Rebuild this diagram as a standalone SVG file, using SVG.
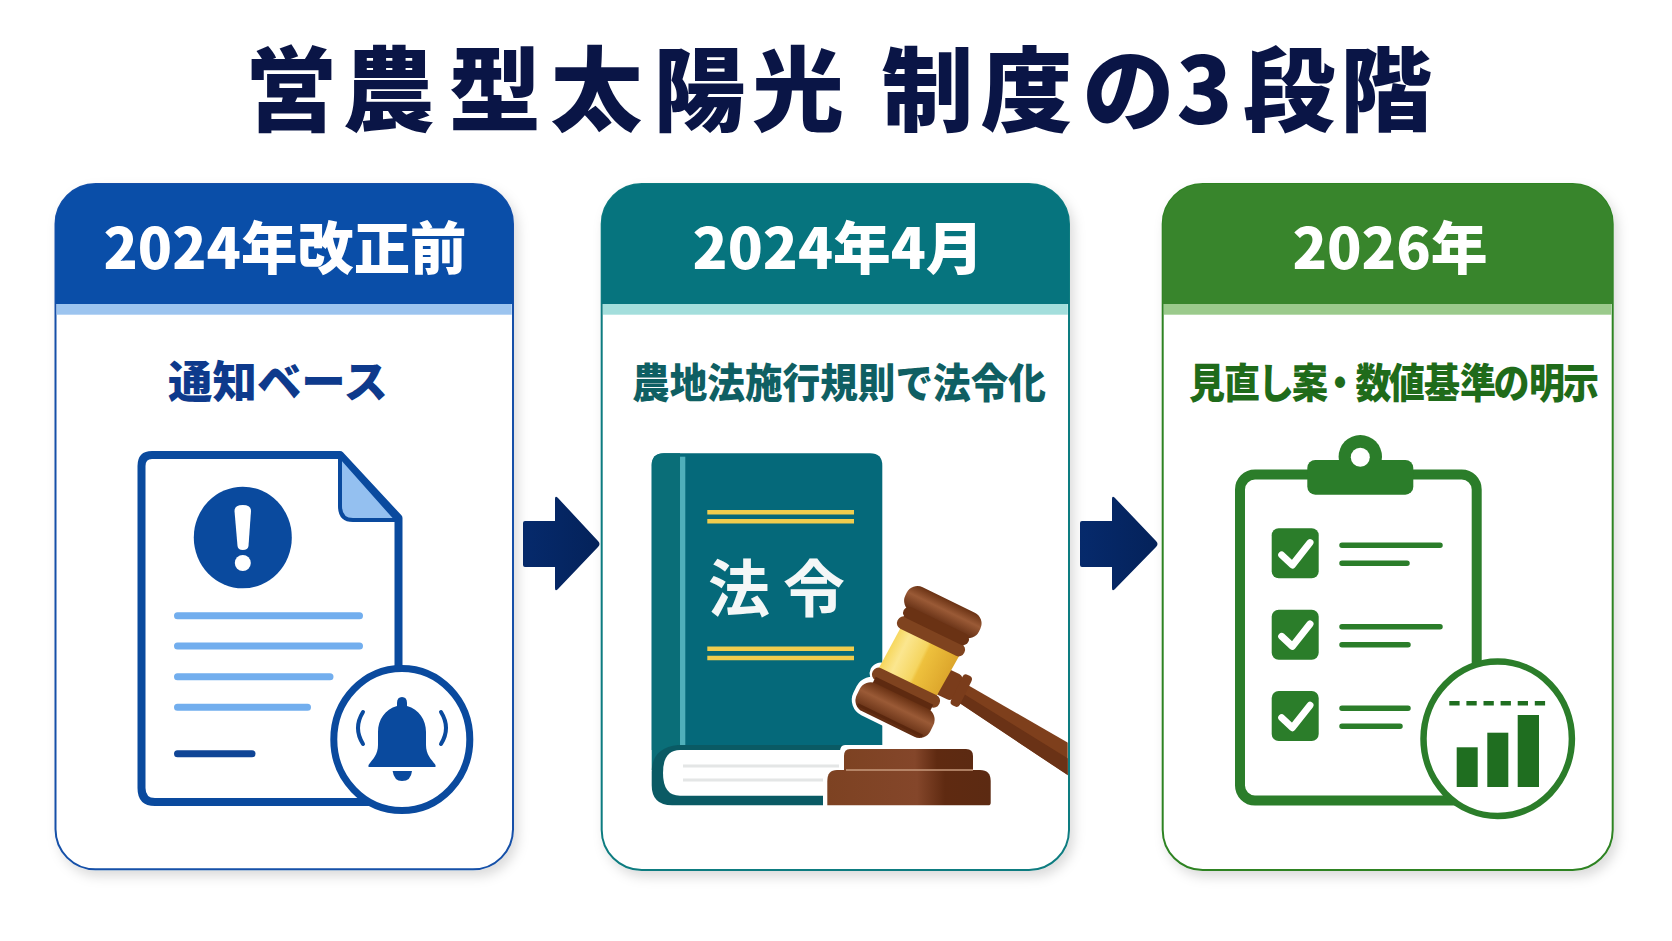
<svg xmlns="http://www.w3.org/2000/svg" width="1672" height="941" viewBox="0 0 1672 941">
<style>
text{font-family:"Noto Sans CJK JP","Noto Sans",sans-serif;text-anchor:middle}
.title{font-size:92px;font-weight:900;fill:#0a1546;text-anchor:start}
.hd{font-size:57px;font-weight:900;fill:#fff}
.sub{font-weight:900}
.card{fill:#fff;stroke-width:2}
.cap{stroke-linecap:round;fill:none}
</style>
<defs>
<filter id="sh" x="-10%" y="-10%" width="125%" height="125%"><feDropShadow dx="4" dy="6" stdDeviation="6" flood-color="#000" flood-opacity=".14"/></filter>
<linearGradient id="arr" x1="0" y1="0" x2="1" y2="0"><stop offset="0" stop-color="#062a6c"/><stop offset="1" stop-color="#04225a"/></linearGradient>
<linearGradient id="gold" x1="0" y1="0" x2="1" y2="0"><stop offset="0" stop-color="#f6d65a"/><stop offset=".2" stop-color="#fbe68f"/><stop offset=".5" stop-color="#f5d560"/><stop offset=".55" stop-color="#eec13d"/><stop offset="1" stop-color="#dca52b"/></linearGradient>
<linearGradient id="wood" x1="0" y1="0" x2="1" y2="0"><stop offset="0" stop-color="#7d4222"/><stop offset=".55" stop-color="#84462a"/><stop offset=".72" stop-color="#5f2a11"/><stop offset="1" stop-color="#5c2a12"/></linearGradient>
<linearGradient id="cap" x1="0" y1="0" x2="0" y2="1"><stop offset="0" stop-color="#6a3214"/><stop offset=".4" stop-color="#9a5a36"/><stop offset="1" stop-color="#5e2a10"/></linearGradient>
<clipPath id="c2"><rect x="601.7" y="183.3" width="466" height="686.7" rx="40"/></clipPath>
</defs>
<rect width="1672" height="941" fill="#fff"/>
<text id="title" class="title" x="245 342.500 449 550.500 653.500 752 850 881.500 980.500 1082.500 1176.500 1243 1340" y="124">営農型太陽光 制度の3段階</text>

<g id="connectors">
<path id="arrow1" fill="url(#arr)" d="M525 521H555V499Q555 495 558 498L598 541Q601 544 598 547L558 589Q555 592 555 588V567H525Q523 567 523 565V523Q523 521 525 521Z"/>
<path id="arrow2" fill="url(#arr)" d="M1082 521H1112V499Q1112 495 1115 498L1156 541Q1159 544 1156 547L1115 589Q1112 592 1112 588V567H1082Q1080 567 1080 565V523Q1080 521 1082 521Z"/>
</g>

<g id="node-2024-before">
<rect class="card" x="55.500" y="184" width="457.500" height="685.300" rx="40" stroke="#1450a8" filter="url(#sh)"/>
<path d="M55.500 304V224a40 40 0 0 1 40-40H473a40 40 0 0 1 40 40V304Z" fill="#0a4ea8"/>
<rect x="56.700" y="304" width="455" height="10.700" fill="#9cc4ef"/>
<text class="hd" x="285" y="269" textLength="363" lengthAdjust="spacingAndGlyphs">2024年改正前</text>
<text class="sub" x="278" y="398" font-size="44" fill="#0e3a8c" textLength="220" lengthAdjust="spacingAndGlyphs">通知ベース</text>
<path d="M152 455H340L398.500 518V780Q398.500 802 378 802H155Q141.500 802 141.500 788V466Q141.500 455 152 455Z" fill="#fff" stroke="#0a4a9e" stroke-width="8" stroke-linejoin="round"/>
<path d="M340 456V506Q340 520 353 520H397Z" fill="#94c0f0" stroke="#0a4a9e" stroke-width="4" stroke-linejoin="round"/>
<ellipse cx="242.800" cy="537.500" rx="49" ry="50.800" fill="#0a4a9e"/>
<path d="M234.500 511Q234.500 505 242.800 505Q251 505 251 511L248.500 546Q248 550 242.800 550Q238 550 237.500 546Z" fill="#fff"/>
<circle cx="242.800" cy="563" r="8" fill="#fff"/>
<g class="cap" stroke-width="7">
<path d="M177.500 615.700H359.500M177.500 646H359.500M177.500 676.700H330M177.500 707.300H307.500" stroke="#72aeee"/>
<path d="M177.500 753.700H252" stroke="#0f4596"/>
</g>
<ellipse cx="401.800" cy="739.500" rx="68" ry="71" fill="#fff" stroke="#0a4a9e" stroke-width="7"/>
<path d="M402 697Q407 697 407 703V706C419 709 426 720 426 732V745C426 755 432 760 435.500 765V767H368.500V765C372 760 378 755 378 745V732C378 720 385 709 397 706V703Q397 697 402 697Z" fill="#0a4a9e"/>
<path d="M392.600 771H412Q411 781 402 781Q394 781 392.600 771Z" fill="#0a4a9e"/>
<path class="cap" d="M363 712Q353 728 363 744M441 712Q451 728 441 744" stroke="#0a4a9e" stroke-width="4"/>
</g>

<g id="node-2024-apr">
<rect class="card" x="601.700" y="184" width="467.300" height="686" rx="40" stroke="#0f7c80" filter="url(#sh)"/>
<path d="M601.700 304V224a40 40 0 0 1 40-40H1029a40 40 0 0 1 40 40V304Z" fill="#06747e"/>
<rect x="603" y="304" width="464.800" height="10.700" fill="#a3dedc"/>
<text class="hd" x="838" y="269" textLength="291" lengthAdjust="spacingAndGlyphs">2024年4月</text>
<text class="sub" x="839" y="398" font-size="41" fill="#0f5f63" textLength="414" lengthAdjust="spacingAndGlyphs">農地法施行規則で法令化</text>
<path d="M664 453.300H870Q882.300 453.300 882.300 465.500V750H651.700V465.500Q651.700 453.300 664 453.300Z" fill="#05697a"/>
<path d="M664 453.300H680V770H651.700V465.500Q651.700 453.300 664 453.300Z" fill="#0a6e78"/>
<path d="M678 745H882.300V805.300H672Q651.700 805.300 651.700 785V772Q651.700 748 678 745Z" fill="#0a5a64"/>
<path d="M680 750H860V795.700H680Q663 795.700 663 773Q663 750 680 750Z" fill="#fff"/>
<rect x="680" y="456.700" width="5.300" height="288.300" fill="#4fb0bb"/>
<path d="M683 766H839M683 780H823" stroke="#e4e6e6" stroke-width="3" fill="none"/>
<path d="M707.300 512.300H854M707.300 521.300H854M707.300 648.700H854M707.300 658H854" stroke="#f0cd4e" stroke-width="4.500" fill="none"/>
<text x="783" y="612" font-size="62" font-weight="700" fill="#f4f7f7" letter-spacing="13">法令</text>
<path d="M845 745H972Q974 745 974 752V768H990Q994 772 994 780V809H823V776Q823 770 840 768V752Q840 745 845 745Z" fill="#fff"/>
<path d="M850 749H966Q973 749 973 756V772H850Z M844 756Q844 749 850 749V772H844Z" fill="url(#wood)"/>
<path d="M837 770H980Q990.700 770 990.700 781V803Q990.700 805.300 988 805.300H827.300V781Q827.300 770 837 770Z" fill="url(#wood)"/>
<path d="M846 770H973" stroke="#c79a7c" stroke-width="1.500"/>
<g clip-path="url(#c2)">
<path d="M966 684L1072 745V778L958 702Z" fill="#7e3f1c"/>
<path d="M964 694L1072 761V778L958 702Z" fill="#6a3216"/>
</g>
<g transform="translate(918.500 662) rotate(26)">
<rect x="-41" y="36" width="82" height="33" rx="13" fill="#fff" stroke="#fff" stroke-width="8"/>
<rect x="-36" y="20" width="72" height="14" rx="7" fill="#fff" stroke="#fff" stroke-width="8"/>
<rect x="26" y="-7" width="22" height="28" rx="6" fill="#7a3c1b"/>
<rect x="46" y="-10" width="10" height="34" rx="4" fill="#7a3c1b"/>
<path d="M-31-24H34L31 24H-33Z" fill="url(#gold)"/>
<path d="M-33-37H33V-24H-33Z" fill="#5e2a10"/>
<rect x="-37" y="-35" width="74" height="13" rx="6" fill="#7f431f"/>
<rect x="-41" y="-69" width="82" height="27" rx="12" fill="url(#cap)"/>
<rect x="-36" y="-46" width="72" height="12" rx="6" fill="#6a3214"/>
<rect x="-37" y="22" width="74" height="13" rx="6" fill="#7f431f"/>
<path d="M-32 32H32V40H-32Z" fill="#5e2a10"/>
<rect x="-41" y="38" width="82" height="31" rx="12" fill="url(#cap)"/>
<path d="M-36 65H36" stroke="#5a270e" stroke-width="3"/>
</g>
</g>

<g id="node-2026">
<rect class="card" x="1162.700" y="184" width="450" height="686" rx="40" stroke="#2e8324" filter="url(#sh)"/>
<path d="M1162.700 304V224a40 40 0 0 1 40-40H1572.700a40 40 0 0 1 40 40V304Z" fill="#38852c"/>
<rect x="1164" y="304" width="447.400" height="10.700" fill="#9bca8c"/>
<text class="hd" x="1390" y="269" textLength="195" lengthAdjust="spacingAndGlyphs">2026年</text>
<text class="sub" transform="scale(1 1.14)" style="text-anchor:start" x="1189 1224 1258 1292 1322 1355.500 1389 1424 1460 1493.500 1529 1563" y="349.100" font-size="36" fill="#1f6b1a">見直し案・数値基準の明示</text>
<rect x="1240" y="474.500" width="236.700" height="326" rx="15" fill="#fff" stroke="#2b7d2a" stroke-width="10"/>
<circle cx="1360.300" cy="456.700" r="21.700" fill="#2b7d2a"/>
<rect x="1307.300" y="460" width="106" height="34.700" rx="8" fill="#2b7d2a"/>
<circle cx="1360.300" cy="457.300" r="9.500" fill="#fff"/>
<g fill="#2b7d2a"><rect x="1271.700" y="528.300" width="47" height="50" rx="7"/><rect x="1271.700" y="609.700" width="47" height="50" rx="7"/><rect x="1271.700" y="691" width="47" height="50" rx="7"/></g>
<path class="cap" stroke="#fff" stroke-width="7" stroke-linejoin="round" d="M1281.700 555L1292.400 565L1310 542.600M1281.700 636.400L1292.400 646.400L1310 624M1281.700 717.700L1292.400 727.700L1310 705.300"/>
<path class="cap" stroke="#2b7d2a" stroke-width="5.500" d="M1342 545.300H1440M1342 563.300H1407M1342 626.700H1440M1342 644.700H1408M1342 708.300H1408M1342 726.300H1400"/>
<ellipse cx="1497.700" cy="738.800" rx="74.200" ry="77.200" fill="#fff" stroke="#2b7d2a" stroke-width="6.500"/>
<path d="M1449.300 703.300H1545.700" stroke="#1f6e20" stroke-width="4.500" stroke-dasharray="10.300 6.800" fill="none"/>
<g fill="#1f6e20"><rect x="1456.700" y="747.300" width="21" height="39.700"/><rect x="1487.300" y="732.700" width="21" height="54.300"/><rect x="1517.700" y="715" width="21.300" height="72"/></g>
</g>
</svg>
